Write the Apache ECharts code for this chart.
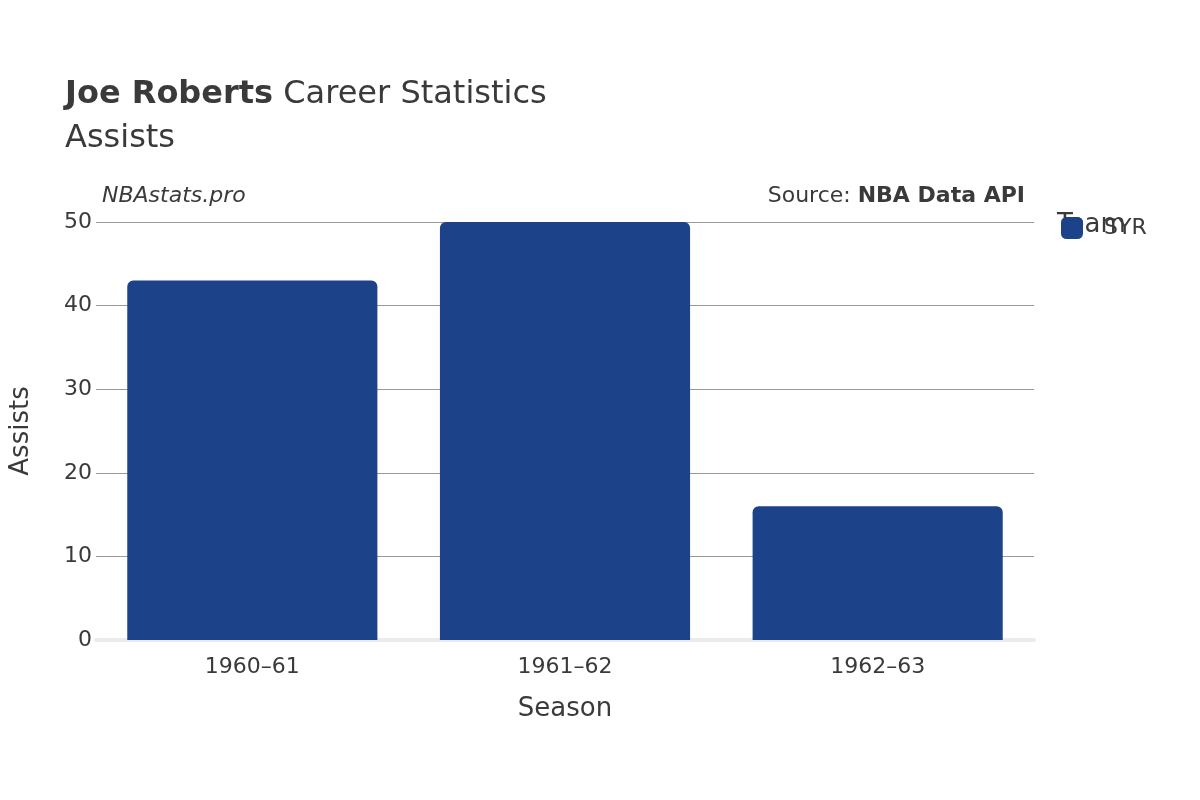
<!DOCTYPE html>
<html>
<head>
<meta charset="utf-8">
<script src="https://cdn.jsdelivr.net/npm/echarts@6/dist/echarts.min.js"></script>
<style>html,body{margin:0;padding:0;background:#fff}#chart{width:1200px;height:800px}</style>
</head>
<body>
<div id="chart"></div>
<script>
// 赛季助攻数据
const seasons = ['1960–61', '1961–62', '1962–63'];
const assists = [43, 50, 16];
const yTicks = [0, 10, 20, 30, 40, 50];

const chart = echarts.init(document.getElementById('chart'));
const font = 'DejaVu Sans';
const text = '#3a3a3a';

chart.setOption({
  backgroundColor: '#fff',
  textStyle: { fontFamily: font },
  title: [
    {
      text: '{b|Joe Roberts} Career Statistics\nAssists',
      left: 60, top: 68,
      textStyle: {
        color: text, fontSize: 32, fontWeight: 'normal', lineHeight: 44, fontFamily: font,
        rich: { b: { fontWeight: 'bold', fontSize: 32, color: text, fontFamily: font } }
      }
    },
    {
      text: 'NBAstats.pro', left: 97, top: 180,
      textStyle: { color: text, fontSize: 22, fontStyle: 'italic', fontWeight: 'normal', fontFamily: font }
    },
    {
      text: 'Source: {b|NBA Data API}', right: 170, top: 180,
      textStyle: {
        color: text, fontSize: 22, fontWeight: 'normal', fontFamily: font,
        rich: { b: { fontWeight: 'bold', fontSize: 22, color: text, fontFamily: font } }
      }
    }
  ],
  legend: {
    left: 1056, top: 212, orient: 'vertical',
    data: ['SYR'],
    formatter: n => n,
    icon: 'roundRect', itemWidth: 22, itemHeight: 22,
    textStyle: { color: text, fontSize: 22, padding: [0, 0, 0, 16] },
    itemGap: 10,
    title: { show: false }
  },
  graphic: [{
    type: 'text', left: 1057, top: 212,
    style: { text: 'Team', fill: text, fontSize: 26, fontFamily: font }
  }],
  grid: { left: 93, right: 166, top: 222, bottom: 160 },
  xAxis: {
    type: 'category', data: seasons,
    name: 'Season', nameLocation: 'middle', nameGap: 56,
    nameTextStyle: { color: text, fontSize: 26 },
    axisLine: { show: true, lineStyle: { color: '#ebebeb', width: 4 } },
    axisTick: { show: false },
    axisLabel: { color: text, fontSize: 22, margin: 16 }
  },
  yAxis: {
    type: 'value', min: 0, max: 50, interval: 10,
    name: 'Assists', nameLocation: 'middle', nameGap: 62,
    nameTextStyle: { color: text, fontSize: 26 },
    axisLine: { show: false }, axisTick: { show: false },
    axisLabel: { color: text, fontSize: 22, margin: 4 },
    splitLine: { lineStyle: { color: '#999', width: 1 } }
  },
  series: [{
    name: 'SYR', type: 'bar',
    data: assists,
    barCategoryGap: '20%',
    itemStyle: { color: '#1c4389', borderRadius: [6, 6, 0, 0] }
  }]
});
</script>
</body>
</html>
